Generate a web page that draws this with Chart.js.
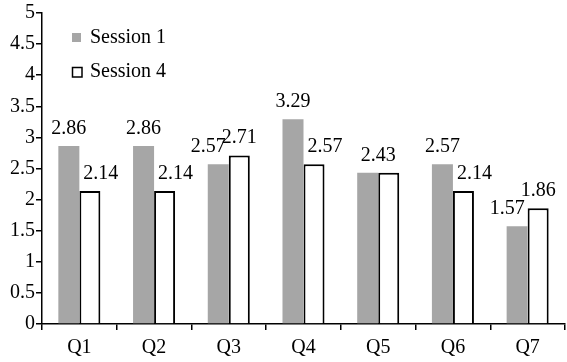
<!DOCTYPE html>
<html>
<head>
<meta charset="utf-8">
<script src="https://cdn.jsdelivr.net/npm/chart.js@4"></script>
</head>
<body style="margin:0">
<canvas id="chart" width="567" height="362"></canvas>
<script>
// datos del grafico
const categories = ['Q1', 'Q2', 'Q3', 'Q4', 'Q5', 'Q6', 'Q7'];
const session1 = [2.86, 2.86, 2.57, 3.29, 2.43, 2.57, 1.57];
const session4 = [2.14, 2.14, 2.71, 2.57, 2.43, 2.14, 1.86];
const seriesNames = ['Session 1', 'Session 4'];
const yMin = 0;
const yMax = 5;
const yStep = 0.5;

const barGray = '#a6a6a6';
const ink = '#000000';
const labelFont = "20px 'Liberation Serif', serif";

// etiquetas de valor sobre las barras
const valueLabels = {
    id: 'valueLabels',
    afterDatasetsDraw(chart) {
        const ctx = chart.ctx;
        const m0 = chart.getDatasetMeta(0).data;
        const m1 = chart.getDatasetMeta(1).data;
        ctx.save();
        ctx.font = labelFont;
        ctx.fillStyle = ink;
        ctx.textAlign = 'center';
        ctx.textBaseline = 'alphabetic';
        categories.forEach((c, i) => {
            const a = m0[i], b = m1[i];
            const va = session1[i], vb = session4[i];
            if (va === vb) {
                ctx.fillText(va.toFixed(2), (a.x + b.x) / 2, Math.min(a.y, b.y) - 12);
                return;
            }
            // la etiqueta mas baja se aparta un poco
            let shiftA = 0, shiftB = 0;
            if (va < vb) shiftA = -10; else shiftB = 11;
            ctx.fillText(va.toFixed(2), a.x + shiftA, a.y - 12);
            ctx.fillText(vb.toFixed(2), b.x + shiftB, b.y - 12);
        });
        ctx.restore();
    }
};

// leyenda dentro del area
const insideLegend = {
    id: 'insideLegend',
    afterDraw(chart) {
        const ctx = chart.ctx;
        const left = chart.chartArea.left + 30;
        const rows = [33, 67];
        ctx.save();
        ctx.font = labelFont;
        ctx.textBaseline = 'middle';
        ctx.textAlign = 'left';
        rows.forEach((y, k) => {
            if (k === 0) {
                ctx.fillStyle = barGray;
                ctx.fillRect(left, y, 9, 9);
            } else {
                ctx.fillStyle = '#ffffff';
                ctx.fillRect(left, y, 10, 10);
                ctx.strokeStyle = ink;
                ctx.lineWidth = 1.5;
                ctx.strokeRect(left + 0.5, y + 0.5, 9.5, 9.5);
            }
            ctx.fillStyle = ink;
            ctx.fillText(seriesNames[k], left + 18, y + 5);
        });
        ctx.restore();
    }
};

new Chart(document.getElementById('chart'), {
    type: 'bar',
    data: {
        labels: categories,
        datasets: [{
            label: seriesNames[0],
            data: session1,
            backgroundColor: barGray,
            borderWidth: 0,
            categoryPercentage: 0.5625,
            barPercentage: 1
        }, {
            label: seriesNames[1],
            data: session4,
            backgroundColor: '#ffffff',
            borderColor: ink,
            borderWidth: 2,
            borderSkipped: 'bottom',
            categoryPercentage: 0.5625,
            barPercentage: 1
        }]
    },
    options: {
        responsive: false,
        animation: false,
        layout: {
            padding: { top: 11, right: 2, left: 0, bottom: 0 }
        },
        plugins: {
            legend: { display: false },
            tooltip: { enabled: false }
        },
        scales: {
            x: {
                grid: {
                    display: true,
                    drawOnChartArea: false,
                    drawTicks: true,
                    tickLength: 6,
                    color: ink,
                    lineWidth: 1.5
                },
                border: { display: true, color: ink, width: 1.5 },
                ticks: {
                    color: ink,
                    font: { family: "'Liberation Serif', serif", size: 20 },
                    padding: 6
                },
                afterFit: function (scale) {
                    scale.height = 38;
                }
            },
            y: {
                min: yMin,
                max: yMax,
                ticks: {
                    stepSize: yStep,
                    color: ink,
                    font: { family: "'Liberation Serif', serif", size: 20 },
                    padding: 1,
                    callback: function (value) {
                        return String(value);
                    }
                },
                grid: {
                    display: true,
                    drawOnChartArea: false,
                    drawTicks: true,
                    tickLength: 6,
                    color: ink,
                    lineWidth: 1.5
                },
                border: { display: true, color: ink, width: 1.5 },
                afterFit: function (scale) {
                    scale.width = 42;
                }
            }
        }
    },
    plugins: [valueLabels, insideLegend]
});
</script>
</body>
</html>
